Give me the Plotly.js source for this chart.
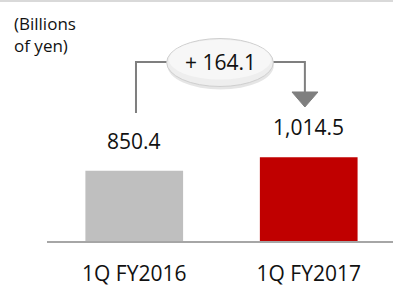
<!DOCTYPE html>
<html>
<head>
<meta charset="utf-8">
<script src="https://cdn.plot.ly/plotly-3.0.1.min.js"></script>
<style>html,body{margin:0;padding:0;background:#fff;}#chart{width:393px;height:286px;}</style>
</head>
<body>
<div id="chart"></div>
<script>
const categories = ["1Q FY2016", "1Q FY2017"];
const values = [850.4, 1014.5];
const valueLabels = ["850.4", "1,014.5"];
const barColors = ["#bfbfbf", "#c00000"];
const unitLabel = "(Billions<br>of yen)";

const diff = values[1] - values[0];
const FONT = "'Open Sans', Lato, sans-serif";
const lineCol = "#7f7f7f";

const trace = {
  type: "bar",
  x: categories,
  y: values,
  marker: {color: barColors},
  width: 0.56,
  hoverinfo: "none"
};

const annotations = categories.map((c, i) => ({
  x: c, y: values[i], xref: "x", yref: "y",
  text: valueLabels[i], showarrow: false,
  yanchor: "middle", yshift: 30,
  font: {family: FONT, size: 21, color: "#111"}
}));
annotations.push({
  x: 0.4915, y: 0.7427, xref: "x", yref: "paper",
  text: "+ " + diff.toFixed(1), showarrow: false,
  xanchor: "center", yanchor: "middle",
  font: {family: FONT, size: 21, color: "#111"}
});
annotations.push({
  x: -0.101, y: 0.857, xref: "paper", yref: "paper",
  text: unitLabel, showarrow: false, align: "left",
  xanchor: "left", yanchor: "middle",
  font: {family: FONT, size: 17, color: "#111"}
});

const shapes = [
  {type: "line", xref: "paper", yref: "paper", x0: -0.2, x1: 1.05, y0: 0.9959, y1: 0.9959,
   line: {color: "#d9d9d9", width: 2}},
  {type: "path", xref: "x", yref: "paper",
   path: "M 0.010,0.5311 L 0.010,0.7427 L 0.19,0.7427",
   line: {color: lineCol, width: 2}},
  {type: "path", xref: "x", yref: "paper",
   path: "M 0.79,0.7427 L 0.978,0.7427 L 0.978,0.6141",
   line: {color: lineCol, width: 2}},
  {type: "path", xref: "x", yref: "paper",
   path: "M 0.904,0.6183 L 1.053,0.6183 L 0.978,0.556 Z",
   fillcolor: "#7f7f7f", line: {color: "#7f7f7f", width: 1}},
  {type: "circle", xref: "x", yref: "paper", x0: 0.19, x1: 0.80, y0: 0.6286, y1: 0.8278,
   fillcolor: "rgba(0,0,0,0.10)", line: {width: 0}},
  {type: "circle", xref: "x", yref: "paper", x0: 0.186, x1: 0.797, y0: 0.6411, y1: 0.8402,
   fillcolor: "#eeeeee", line: {color: "#cfcfcf", width: 1}},
  {type: "circle", xref: "x", yref: "paper", x0: 0.20, x1: 0.783, y0: 0.67, y1: 0.835,
   fillcolor: "#f7f7f7", line: {width: 0}}
];

const layout = {
  width: 393, height: 286,
  margin: {l: 47, r: 0, t: 0, b: 45, pad: 0},
  paper_bgcolor: "#fff", plot_bgcolor: "#fff",
  showlegend: false,
  xaxis: {
    type: "category", range: [-0.5, 1.483], fixedrange: true,
    showline: true, linecolor: "#a6a6a6", linewidth: 2,
    showgrid: false, zeroline: false, ticks: "",
    ticklabelstandoff: 13,
    tickfont: {family: FONT, size: 21, color: "#111"}
  },
  yaxis: {
    range: [0, 2916], visible: false, showgrid: false, zeroline: false, fixedrange: true
  },
  annotations: annotations,
  shapes: shapes
};

Plotly.newPlot("chart", [trace], layout, {displayModeBar: false, staticPlot: true});
</script>
</body>
</html>
